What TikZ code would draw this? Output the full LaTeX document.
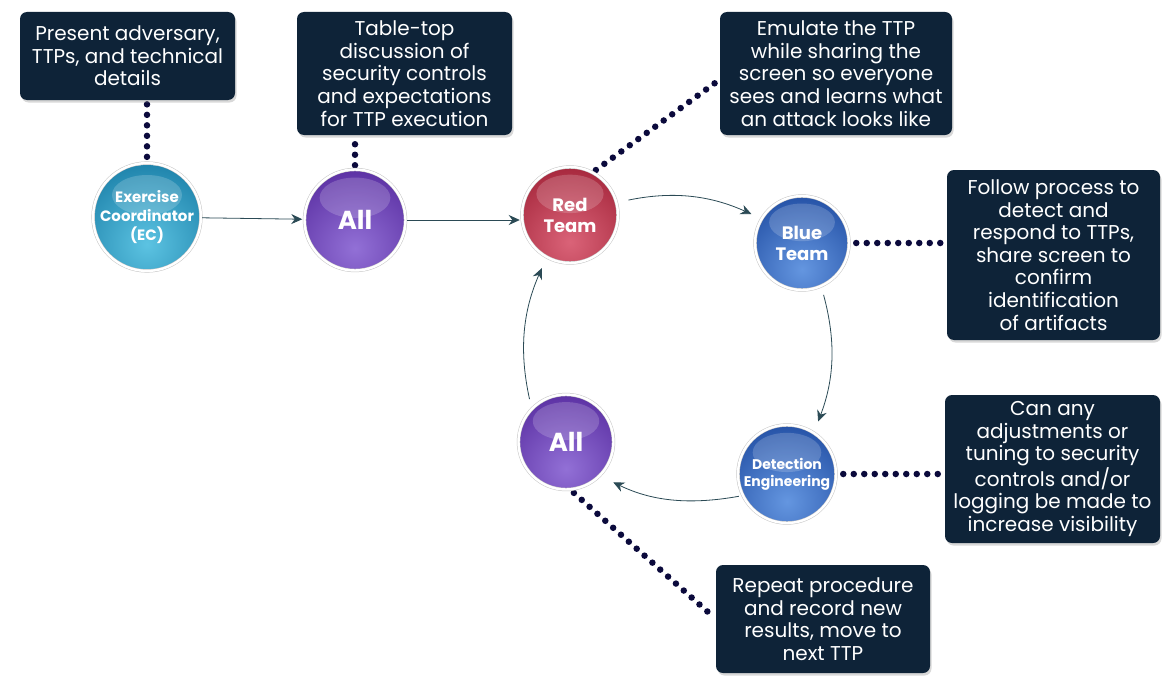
\documentclass[tikz,border=0pt]{standalone}
\usepackage{fontspec}
\setmainfont{Poppins}
\usetikzlibrary{arrows.meta,shadows,backgrounds,calc}
\definecolor{boxc}{HTML}{0E2338}
\definecolor{dotc}{HTML}{0B0A3C}
\definecolor{linec}{HTML}{2B4A55}
\definecolor{ecD}{HTML}{1F84AC}
\definecolor{ecL}{HTML}{5CC3E2}
\definecolor{alD}{HTML}{5B30A3}
\definecolor{alL}{HTML}{9270D6}
\definecolor{rdD}{HTML}{A6273C}
\definecolor{rdL}{HTML}{DA6378}
\definecolor{blD}{HTML}{2451A6}
\definecolor{blL}{HTML}{6496E0}
\begin{document}
\begin{tikzpicture}[x=1pt,y=-1pt,
  tbox/.style={rectangle, rounded corners=7pt, fill=boxc, text=white, align=center,
    inner sep=0pt, font=\fontsize{20}{22.6}\selectfont,
    drop shadow={shadow xshift=1.5pt, shadow yshift=-2.5pt, opacity=0.3}},
  ball/.style n args={3}{circle, inner sep=0pt, minimum size=#1pt, text=white, align=center,
    draw=gray!45, double=white, double distance=2.4pt, line width=0.5pt,
    path picture={
      \shade[inner color=#3, outer color=#2] ([yshift={-0.28*#1pt}]path picture bounding box.center) circle ({0.8*#1pt});
      \fill[white, opacity=0.18] ([yshift={0.22*#1pt}]path picture bounding box.center) ellipse ({0.35*#1pt} and {0.2*#1pt});
    }},
  flow/.style={draw=linec, line width=0.8pt, -{Stealth[length=11pt,width=10pt]}},
  dots/.style={draw=dotc, line width=6.5pt, line cap=round, dash pattern=on 0pt off 10.5pt},
]
\useasboundingbox (0,0) rectangle (1162,677);

% boxes
\node[tbox, minimum width=215pt, minimum height=88pt] (B1) at (127.5,56) {Present adversary,\\TTPs, and technical\\details};
\node[tbox, minimum width=215pt, minimum height=123pt] (B2) at (404.5,73.5) {Table-top\\discussion of\\security controls\\and expectations\\for TTP execution};
\node[tbox, minimum width=232pt, minimum height=123pt] (B3) at (836,73.5) {Emulate the TTP\\while sharing the\\screen so everyone\\sees and learns what\\an attack looks like};
\node[tbox, minimum width=213pt, minimum height=170pt] (B4) at (1053.5,255) {Follow process to\\detect and\\respond to TTPs,\\share screen to\\confirm\\identification\\of artifacts};
\node[tbox, minimum width=215pt, minimum height=148pt] (B5) at (1052.5,469) {Can any\\adjustments or\\tuning to security\\controls and/or\\logging be made to\\increase visibility};
\node[tbox, minimum width=214pt, minimum height=108pt] (B6) at (823,619) {Repeat procedure\\and record new\\results, move to\\next TTP};

% balls
\node[ball={100}{ecD}{ecL}, font=\bfseries\fontsize{15}{19}\selectfont] (EC) at (147,217) {Exercise\\Coordinator\\(EC)};
\node[ball={101}{alD}{alL}, font=\bfseries\fontsize{26}{30}\selectfont] (A1) at (355,220) {All};
\node[ball={96}{rdD}{rdL}, font=\bfseries\fontsize{18}{21}\selectfont] (R) at (570,215) {Red\\Team};
\node[ball={94}{blD}{blL}, font=\bfseries\fontsize{18}{21}\selectfont] (B) at (802,243) {Blue\\Team};
\node[ball={98}{blD}{blL}, font=\bfseries\fontsize{14}{17}\selectfont] (D) at (787,474) {Detection\\Engineering};
\node[ball={95}{alD}{alL}, font=\bfseries\fontsize{26}{30}\selectfont] (A2) at (566,442) {All};

\begin{pgfonlayer}{background}
  \fill[white] (0,0) rectangle (1162,677);
  % dotted callouts
  \draw[dots, shorten <=6pt, shorten >=4pt] (EC.north) -- (EC.north |- B1.south);
  \draw[dots, shorten <=4pt, shorten >=4pt] (A1.north) -- (A1.north |- B2.south);
  \draw[dots, shorten <=4pt, shorten >=4pt] (R.62) -- ($(B3.west)+(0,6)$);
  \draw[dots, shorten <=7pt, shorten >=4pt] (B.east) -- (B.east -| B4.west);
  \draw[dots, shorten <=7pt, shorten >=4pt] (D.east) -- (D.east -| B5.west);
  \draw[dots, shorten <=5pt, shorten >=4pt] (A2.-85) -- (B6.west);
\end{pgfonlayer}

% flow arrows
\draw[flow, shorten <=1pt, shorten >=2pt] (EC) -- (A1);
\draw[flow, shorten <=1pt, shorten >=2pt] (A1.east) -- (A1.east -| R.west);
\draw[flow, shorten <=12pt, shorten >=11pt] (R.15) to[bend left=18] (B.149);
\draw[flow, shorten <=9pt, shorten >=12pt] (B.-66) to[bend left=18] (D.57);
\draw[flow, shorten <=4pt, shorten >=15pt] (D.206) to[bend left=18] (A2.-45);
\draw[flow, shorten <=10pt, shorten >=12pt] (A2.136) to[bend left=18] (R.241);
\end{tikzpicture}
\end{document}
